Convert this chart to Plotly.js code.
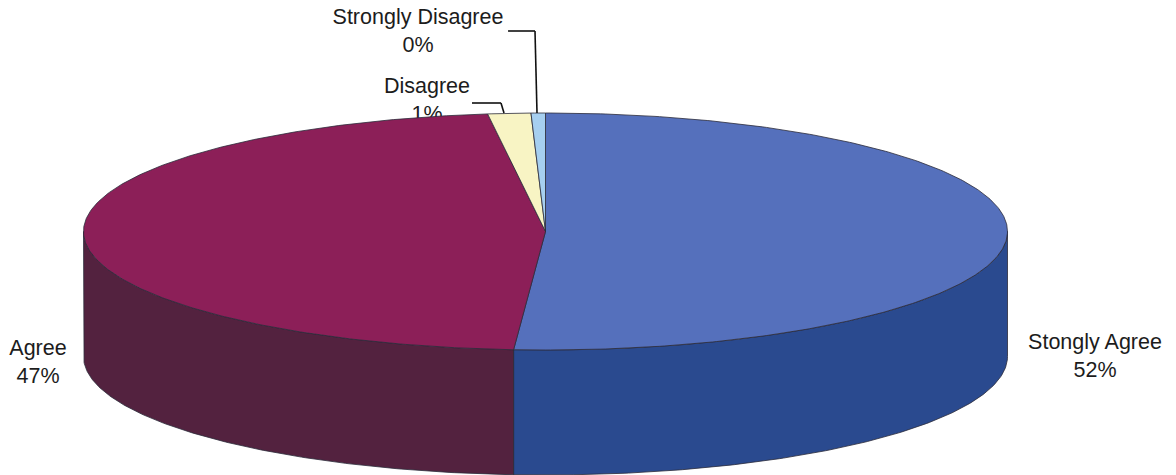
<!DOCTYPE html>
<html><head><meta charset="utf-8">
<script src="https://cdn.plot.ly/plotly-3.0.1.min.js"></script>
<style>html,body{margin:0;padding:0;background:#fff}#c{width:1176px;height:475px}</style>
</head><body><div id="c"></div>
<script>
const categories = ["Stongly Agree","Agree","Disagree","Strongly Disagree"];
const sliceShares = [51.1,46.9,1.5,0.5];
const percentLabels = ["52%","47%","1%","0%"];
const topColors = ["#5570BC","#8C1F58","#F8F4C4","#A6CFF0"];
const sideColors = ["#2A4A8F","#53223F","#C9C59A","#7FA3C2"];

const cx=545.5, cy=231.5, rx=462, ry=118.5, depth=125, outline="#2b2b3a";
const px=t=>cx+rx*Math.sin(t), py=t=>cy-ry*Math.cos(t);
function arc(a,b,dy){const n=Math.max(2,Math.ceil(Math.abs(b-a)/0.01));const xs=[],ys=[];
  for(let i=0;i<=n;i++){const t=a+(b-a)*i/n;xs.push(px(t));ys.push(py(t)+dy);}return [xs,ys];}
const traces=[];
// labels first so the pie covers the clipped "1%"
const labelPos={x:[1095,38,427,418],y:[358,364,102,33]};
traces.push({type:"scatter",mode:"text",x:labelPos.x,y:labelPos.y,
  text:categories.map((c,i)=>c+"<br>"+percentLabels[i]),
  textposition:"middle center",textfont:{family:"Liberation Sans, Arial, sans-serif",size:21.5,color:"#1c1c1c"},
  hoverinfo:"skip",showlegend:false});
const total=sliceShares.reduce((a,b)=>a+b,0);
let start=0;const sl=[];
sliceShares.forEach((v,i)=>{const a=start,b=start+v/total*2*Math.PI;sl.push([a,b]);start=b;});
// sides (front half only)
sl.forEach(([a,b],i)=>{
  const lo=Math.max(a,Math.PI/2),hi=Math.min(b,1.5*Math.PI);
  if(hi<=lo)return;
  const [x1,y1]=arc(lo,hi,0),[x2,y2]=arc(hi,lo,depth);
  traces.push({type:"scatter",mode:"lines",x:[...x1,...x2,x1[0]],y:[...y1,...y2,y1[0]],fill:"toself",
    fillcolor:sideColors[i],line:{color:outline,width:0.8},hoverinfo:"skip",showlegend:false});
});
// top faces
sl.forEach(([a,b],i)=>{
  const [x1,y1]=arc(a,b,0);
  traces.push({type:"scatter",mode:"lines",x:[cx,...x1,cx],y:[cy,...y1,cy],fill:"toself",
    fillcolor:topColors[i],line:{color:outline,width:0.8},hoverinfo:"skip",showlegend:false});
});
const lead=(x0,y0,x1,y1)=>({type:"line",x0,y0,x1,y1,xref:"x",yref:"y",line:{color:"#111",width:1.6}});
Plotly.newPlot("c",traces,{
  width:1176,height:475,margin:{l:0,r:0,t:0,b:0},paper_bgcolor:"#fff",plot_bgcolor:"#fff",showlegend:false,
  xaxis:{range:[0,1176],visible:false,fixedrange:true},
  yaxis:{range:[475,0],visible:false,fixedrange:true},
  shapes:[lead(508,31,535,31),lead(535,31,537,113),lead(472,103,501,103),lead(501,103,504,113)]
},{displayModeBar:false,staticPlot:true});
</script></body></html>
